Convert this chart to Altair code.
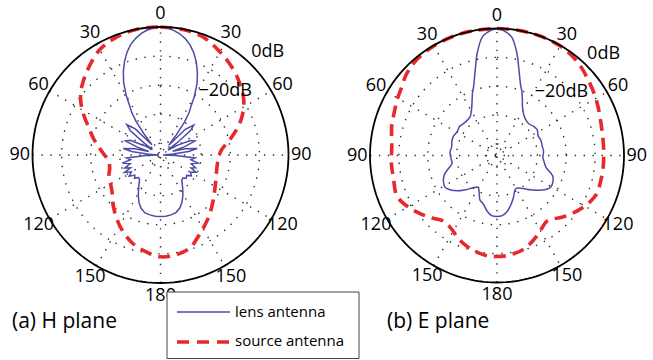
import altair as alt
import numpy as np
import pandas as pd

W, H = 653, 360
DB_MIN = -44.0          # level at the centre of each polar plot
FONT = "Open Sans"
BLUE = "#4c4ca6"
RED = "#e8282b"
GRID = "#2a2a2a"

# panel geometry: centre x, centre y, outer radius (pixels)
PANELS = {"H": (160.5, 155.0, 128.0), "E": (497.0, 155.5, 127.0)}

# ---------------- data (angle in degrees, clockwise from 0 at top; level in dB) ----------------
h_lens_ang = [0, 3, 6, 9, 12, 15, 18, 21, 24, 27, 30, 32, 34, 36, 38, 40, 44, 48, 51, 54, 56, 60,
              64, 68, 71, 73, 76, 80, 83, 86, 89, 92, 95, 99, 102, 106, 110, 113, 116, 120, 124,
              128, 132, 136, 140, 144, 148, 152, 156, 160, 165, 170, 175, 180,
              185, 190, 195, 200, 204, 208, 212, 216, 220, 224, 228, 232, 236, 240, 244, 247,
              250, 254, 258, 261, 265, 268, 271, 274, 277, 280, 284, 287, 289, 292, 296, 300,
              304, 306, 309, 312, 316, 320, 322, 324, 326, 328, 330, 333, 336, 339, 342, 345,
              348, 351, 354, 357, 360]
h_lens_db = [0, -0.2, -0.9, -1.8, -3.1, -4.8, -7.0, -9.7, -12.8, -16.3, -20.7, -24.2, -26.4,
             -29.9, -35.2, -39.6, -31.7, -28.6, -30.8, -37.4, -40.9, -37.4, -32.6, -31.2, -35.2,
             -39.6, -35.2, -31.2, -34.3, -39.6, -43.1, -38.7, -32.1, -33.4, -30.8, -33.0, -31.2,
             -32.6, -30.4, -32.1, -31.2, -32.6, -32.1, -33.0, -32.6, -31.2, -29.5, -27.7, -26.0,
             -24.6, -23.5, -23.1, -22.9, -22.9,
             -22.9, -23.1, -23.4, -24.5, -25.9, -27.8, -29.7, -31.4, -32.8, -33.2, -32.0, -32.8,
             -31.0, -32.4, -30.2, -32.8, -31.0, -33.2, -30.6, -33.6, -32.3, -38.9, -43.1, -39.4,
             -34.0, -31.0, -35.0, -39.8, -35.4, -31.0, -32.4, -37.6, -40.7, -37.2, -30.6, -28.4,
             -31.5, -39.4, -35.0, -29.7, -26.2, -24.0, -20.5, -16.1, -12.6, -9.5, -6.8, -4.6,
             -3.0, -1.7, -0.8, -0.2, 0]

h_src_ang = [0, 10, 20, 30, 40, 48, 55, 60, 66, 72, 78, 85, 92, 100, 108, 116, 124, 132, 140,
             148, 155, 162, 170, 180,
             190, 198, 207, 215, 223, 232, 240, 248, 256, 264, 272, 278, 284, 291, 297, 303,
             308, 313, 320, 330, 340, 350, 360]
h_src_db = [0, -0.2, -0.9, -3.1, -5.3, -7.3, -9.2, -11.0, -13.6, -16.7, -19.8, -22.9, -24.0,
            -24.2, -23.8, -22.9, -21.6, -19.8, -17.6, -15.4, -13.2, -10.6, -9.4, -9.0,
            -10.6, -12.3, -15.0, -17.6, -20.2, -22.9, -24.2, -24.9, -26.0, -26.0, -24.2, -22.4,
            -20.2, -17.6, -14.5, -11.4, -9.2, -7.5, -5.3, -2.2, -0.7, 0, 0]

e_lens_ang = [0, 3, 7, 11, 14, 17, 19, 21, 24, 27, 31, 35, 40, 46, 52, 58, 64, 71, 78, 85, 92,
              98, 104, 110, 115, 120, 124, 127, 132, 136, 142, 149, 153, 158, 164, 170, 175, 180,
              185, 190, 196, 201, 206, 211, 217, 223, 228, 234, 239, 245, 250, 255, 260, 267,
              274, 281, 288, 294, 301, 308, 314, 320, 325, 329, 333, 336, 339, 341, 343, 346,
              349, 353, 357, 360]
e_lens_db = [0, -0.7, -2.6, -7.9, -12.8, -16.7, -18.7, -20.0, -22.4, -24.6, -26.4, -27.5, -28.2,
             -28.4, -27.7, -27.5, -28.2, -27.9, -28.0, -27.8, -28.1, -27.5, -26.4, -23.5, -22.6,
             -22.4, -23.1, -24.2, -26.0, -27.5, -29.5, -30.8, -30.4, -28.6, -26.4, -24.2, -23.1,
             -22.9,
             -23.1, -24.4, -26.6, -27.5, -29.9, -31.2, -29.9, -27.7, -25.7, -23.8, -22.9, -23.5,
             -24.6, -26.6, -28.2, -28.0, -27.7, -28.0, -27.6, -27.5, -27.9, -27.6, -28.0, -28.0,
             -27.7, -26.6, -24.8, -22.8, -20.4, -19.0, -17.0, -13.0, -8.0, -2.6, -0.7, 0]

e_src_ang = [0, 10, 20, 30, 38, 44, 50, 57, 64, 72, 80, 88, 96, 104, 111, 116, 121, 127, 133,
             138, 143, 148, 154, 160, 165, 170, 175, 180,
             185, 192, 198, 205, 211, 215, 220, 226, 233, 240, 248, 258, 265, 277, 285, 292,
             299, 305, 312, 320, 330, 340, 350, 360]
e_src_db = [0, 0, 0, -0.2, -0.9, -1.8, -2.9, -4.0, -5.1, -6.2, -6.8, -7.0, -7.0, -7.0, -7.0,
            -7.9, -9.2, -10.9, -12.8, -14.5, -15.4, -14.5, -12.8, -11.2, -10.1, -9.5, -9.1, -9.0,
            -9.0, -9.9, -10.8, -12.3, -13.9, -14.5, -14.5, -12.8, -10.6, -8.4, -6.6, -7.3, -7.3,
            -7.3, -6.2, -5.5, -4.4, -3.5, -1.8, -0.7, -0.2, 0, 0, 0]

ring_levels = [-10, -20, -30, -40]
spoke_angles = [0, 30, 60, 90, 120, 150]
tick_angles = [0, 30, 60, 90, 120, 150, 180, 210, 240, 270, 300, 330]
tick_labels = ["0", "30", "60", "90", "120", "150", "180", "150", "120", "90", "60", "30"]
db_labels = ["0dB", "\u221220dB"]
db_label_levels = [0, -20]
panel_titles = ["(a) H plane", "(b) E plane"]
legend_labels = ["lens antenna", "source antenna"]


def rad_of(level, R):
    return R * (np.asarray(level, float) - DB_MIN) / (-DB_MIN)


def curve(panel, ang, db, key=""):
    cx, cy, R = PANELS[panel]
    a = np.radians(np.asarray(ang, float))
    r = rad_of(db, R)
    return pd.DataFrame({"key": panel + key, "i": np.arange(len(a)),
                         "x": cx + r * np.sin(a), "y": cy - r * np.cos(a)})


XS = alt.Scale(domain=[0, W], nice=False, zero=False)
YS = alt.Scale(domain=[0, H], nice=False, zero=False, reverse=True)


def X(f="x"):
    return alt.X(f + ":Q", scale=XS, axis=None)


def Y(f="y"):
    return alt.Y(f + ":Q", scale=YS, axis=None)


# ---------------- grid ----------------
spk = []
for p, (cx, cy, R) in PANELS.items():
    for a in spoke_angles:
        t = np.radians(a)
        spk.append({"x": cx - R * np.sin(t), "y": cy + R * np.cos(t),
                    "x2": cx + R * np.sin(t), "y2": cy - R * np.cos(t)})
spokes = alt.Chart(pd.DataFrame(spk)).mark_rule(
    stroke=GRID, strokeWidth=1.4, strokeDash=[1.4, 7.5]
).encode(x=X(), y=Y(), x2="x2:Q", y2="y2:Q")

circle_ang = np.arange(0, 361, 2)
rg = []
for p in PANELS:
    for lv in ring_levels:
        rg.append(curve(p, circle_ang, np.full(circle_ang.shape, float(lv)), key=str(lv)))
rings = alt.Chart(pd.concat(rg)).mark_line(
    stroke=GRID, strokeWidth=1.4, strokeDash=[1.4, 7.5]
).encode(x=X(), y=Y(), order="i:Q", detail="key:N")

outer_df = pd.concat([curve(p, circle_ang, np.zeros(circle_ang.shape)) for p in PANELS])
outer = alt.Chart(outer_df).mark_line(stroke="black", strokeWidth=1.8).encode(
    x=X(), y=Y(), order="i:Q", detail="key:N")

# ---------------- curves ----------------
src = pd.concat([curve("H", h_src_ang, h_src_db), curve("E", e_src_ang, e_src_db)])
src_line = alt.Chart(src).mark_line(
    stroke=RED, strokeWidth=3.6, strokeDash=[12, 7], interpolate="catmull-rom"
).encode(x=X(), y=Y(), order="i:Q", detail="key:N")

h_lens = alt.Chart(curve("H", h_lens_ang, h_lens_db)).mark_line(
    stroke=BLUE, strokeWidth=1.5, interpolate="linear"
).encode(x=X(), y=Y(), order="i:Q")

e_lens = alt.Chart(curve("E", e_lens_ang, e_lens_db)).mark_line(
    stroke=BLUE, strokeWidth=1.5, interpolate="catmull-rom"
).encode(x=X(), y=Y(), order="i:Q")

# ---------------- labels ----------------
tl = []
for p, (cx, cy, R) in PANELS.items():
    for a, s in zip(tick_angles, tick_labels):
        t = np.radians(a)
        tl.append({"x": cx + 1.1 * R * np.sin(t), "y": cy - 1.1 * R * np.cos(t), "t": s})
ticks = alt.Chart(pd.DataFrame(tl)).mark_text(
    font=FONT, fontSize=18, color="black", align="center", baseline="middle"
).encode(x=X(), y=Y(), text="t:N")

dl = []
for p, (cx, cy, R) in PANELS.items():
    for s, lv in zip(db_labels, db_label_levels):
        ang = 41.5 if lv == 0 else 30.5
        rr = float(rad_of(lv, R)) + (9 if lv == 0 else 5)
        t = np.radians(ang)
        dl.append({"x": cx + rr * np.sin(t), "y": cy - rr * np.cos(t), "t": s})
dbl = alt.Chart(pd.DataFrame(dl)).mark_text(
    font=FONT, fontSize=18, color="black", align="left", baseline="middle"
).encode(x=X(), y=Y(), text="t:N")

titles = alt.Chart(pd.DataFrame({"x": [12, 387], "y": [322, 322], "t": panel_titles})).mark_text(
    font=FONT, fontSize=21, color="black", align="left", baseline="middle"
).encode(x=X(), y=Y(), text="t:N")

# ---------------- legend ----------------
leg_box = alt.Chart(pd.DataFrame({"x": [167], "x2": [359], "y": [292], "y2": [358.5]})).mark_rect(
    fill="white", stroke="#444", strokeWidth=1
).encode(x=X(), x2="x2:Q", y=Y(), y2="y2:Q")
leg_lens = alt.Chart(pd.DataFrame({"x": [177], "x2": [230], "y": [312]})).mark_rule(
    stroke=BLUE, strokeWidth=1.6).encode(x=X(), x2="x2:Q", y=Y())
leg_src = alt.Chart(pd.DataFrame({"x": [177], "x2": [230], "y": [342]})).mark_rule(
    stroke=RED, strokeWidth=3.6, strokeDash=[12, 8]).encode(x=X(), x2="x2:Q", y=Y())
leg_txt = alt.Chart(pd.DataFrame({"x": [235, 235], "y": [312, 341], "t": legend_labels})).mark_text(
    font=FONT, fontSize=15, color="black", align="left", baseline="middle"
).encode(x=X(), y=Y(), text="t:N")

chart = alt.layer(
    spokes, rings, src_line, h_lens, e_lens, outer, ticks, dbl, titles,
    leg_box, leg_lens, leg_src, leg_txt
).properties(
    width=W, height=H, padding=0, autosize=alt.AutoSizeParams(type="none"),
    background="white"
).configure_view(stroke=None)

chart.save("out.html", embed_options={"renderer": "svg", "actions": False})
